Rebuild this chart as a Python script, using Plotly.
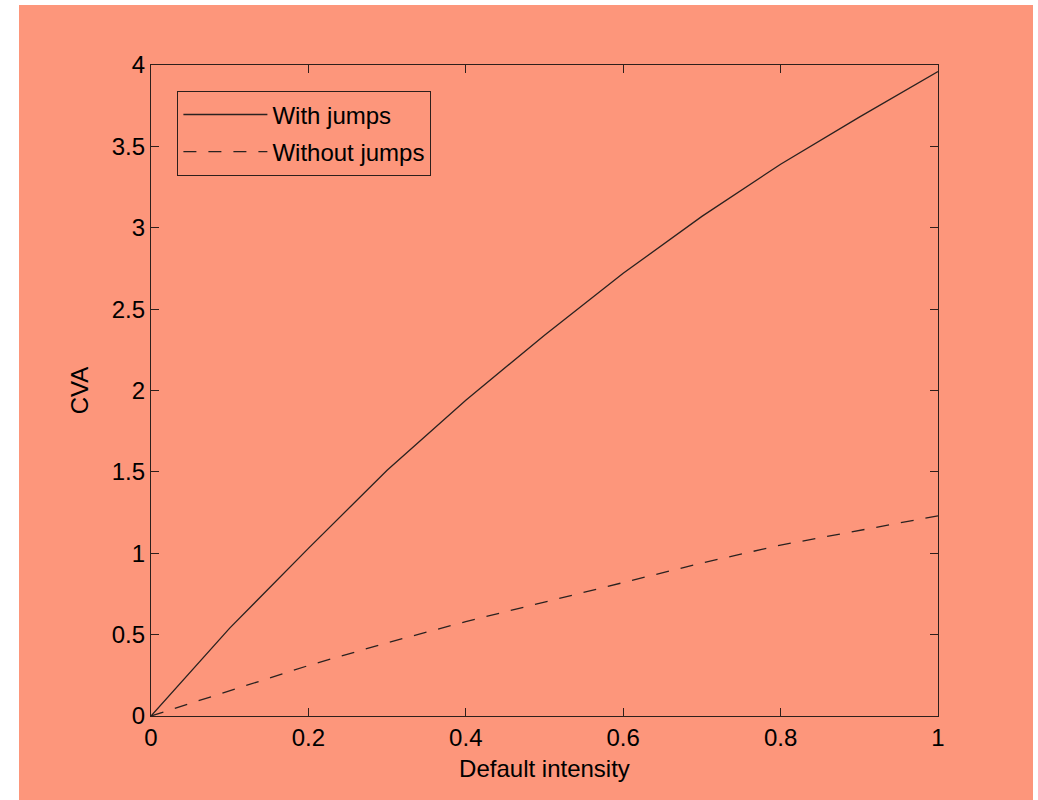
import plotly.graph_objects as go

default_intensity = [0.0, 0.1, 0.2, 0.3, 0.4, 0.5, 0.6, 0.7, 0.8, 0.9, 1.0]
cva_with_jumps = [0.0, 0.54, 1.03, 1.51, 1.94, 2.34, 2.72, 3.07, 3.39, 3.68, 3.96]
cva_without_jumps = [0.0, 0.155, 0.31, 0.45, 0.58, 0.70, 0.82, 0.94, 1.05, 1.14, 1.23]

x_ticks = [0, 0.2, 0.4, 0.6, 0.8, 1.0]
x_tick_labels = ["0", "0.2", "0.4", "0.6", "0.8", "1"]
y_ticks = [0, 0.5, 1, 1.5, 2, 2.5, 3, 3.5, 4]
y_tick_labels = ["0", "0.5", "1", "1.5", "2", "2.5", "3", "3.5", "4"]

SALMON = "#FD967B"
AXIS = "#2e1f1b"
LINE = "#2a2220"
FONT = "Liberation Sans, Arial, sans-serif"

fig = go.Figure()
fig.add_trace(go.Scatter(x=default_intensity, y=cva_with_jumps, mode="lines",
                         name="With jumps", legendgroup="a",
                         line=dict(color=LINE, width=1.3)))
fig.add_trace(go.Scatter(x=default_intensity, y=cva_without_jumps, mode="lines",
                         name="Without jumps", legendgroup="b",
                         line=dict(color=LINE, width=1.3, dash="13px,12px")))

W, H = 1038, 800
L, R, T, B = 151, 938, 65, 716
pw, ph = R - L, B - T

axis_common = dict(showline=True, linecolor=AXIS, linewidth=1.4, mirror="ticks",
                   ticks="inside", ticklen=8, tickwidth=1.4, tickcolor=AXIS,
                   showgrid=False, zeroline=False,
                   tickfont=dict(family=FONT, size=24, color="black"),
                   title_font=dict(family=FONT, size=24, color="black"))

fig.update_layout(
    width=W, height=H,
    margin=dict(l=L, r=W - R, t=T, b=H - B, pad=0),
    paper_bgcolor="white", plot_bgcolor=SALMON,
    font=dict(family=FONT, color="black"),
    xaxis=dict(range=[0, 1], tickvals=x_ticks, ticktext=x_tick_labels,
               title=dict(text="Default intensity", standoff=10), **axis_common),
    yaxis=dict(range=[0, 4], tickvals=y_ticks, ticktext=y_tick_labels,
               title=dict(text="CVA", standoff=16), **axis_common),
    legend=dict(x=(177 - L) / pw, y=(B - 91) / ph, xanchor="left", yanchor="top",
                bgcolor=SALMON, bordercolor=AXIS, borderwidth=1.4,
                font=dict(family=FONT, size=24, color="black"),
                traceorder="grouped", tracegroupgap=3, itemwidth=84),
    shapes=[dict(type="rect", xref="paper", yref="paper",
                 x0=(19 - L) / pw, x1=(1033 - L) / pw,
                 y0=(B - 800) / ph, y1=(B - 5) / ph,
                 fillcolor=SALMON, line=dict(width=0), layer="below")],
)

fig.write_html("out.html")
